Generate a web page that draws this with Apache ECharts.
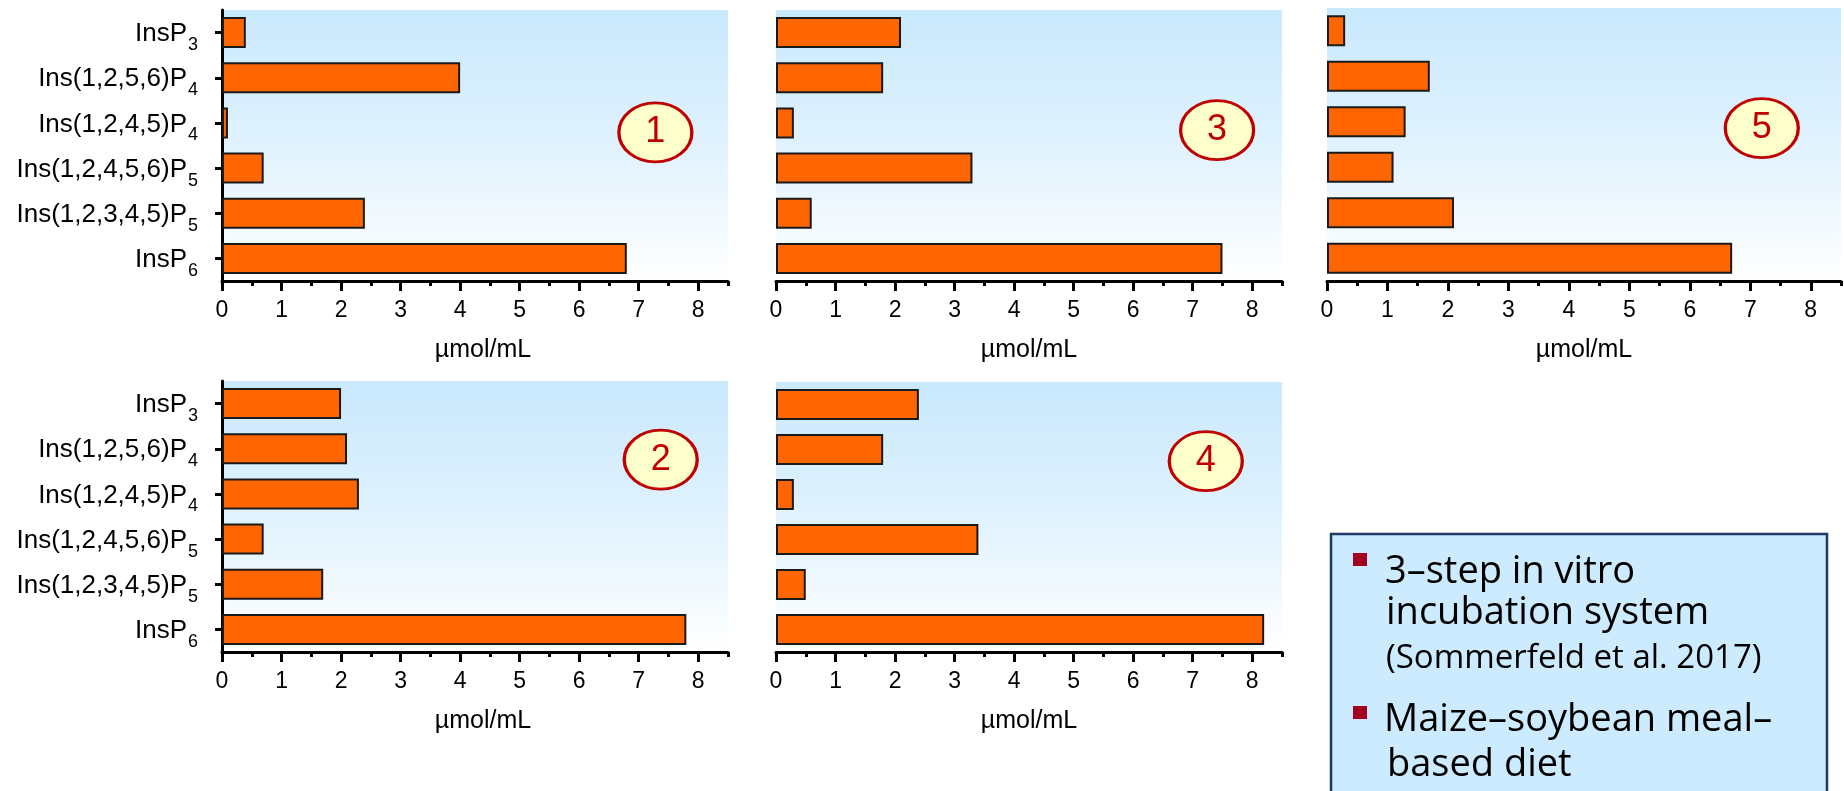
<!DOCTYPE html>
<html>
<head>
<meta charset="utf-8">
<script src="https://cdn.jsdelivr.net/npm/echarts@6/dist/echarts.min.js"></script>
<style>
  html, body { margin: 0; padding: 0; background: #ffffff; }
  #chart { width: 1844px; height: 791px; }
</style>
</head>
<body>
<div id="chart"></div>
<script>
// Inositol phosphate isomers (last character of each name is drawn as a subscript)
const categories = ['InsP3', 'Ins(1,2,5,6)P4', 'Ins(1,2,4,5)P4', 'Ins(1,2,4,5,6)P5', 'Ins(1,2,3,4,5)P5', 'InsP6'];

// Concentrations, µmol/mL, one array per incubation panel
const panel1 = [0.4, 4.0, 0.1, 0.7, 2.4, 6.8];
const panel2 = [2.0, 2.1, 2.3, 0.7, 1.7, 7.8];
const panel3 = [2.1, 1.8, 0.3, 3.3, 0.6, 7.5];
const panel4 = [2.4, 1.8, 0.3, 3.4, 0.5, 8.2];
const panel5 = [0.3, 1.7, 1.3, 1.1, 2.1, 6.7];

const xTickValues = [0, 1, 2, 3, 4, 5, 6, 7, 8];
const unitLabel = 'µmol/mL';

// Panel numbers and where the numbered badge sits (x in µmol/mL, y in category bands from the bottom)
const badgeLabels = ['1', '2', '3', '4', '5'];
const badgeX = [7.28, 7.37, 7.41, 7.22, 7.19];
const badgeY = [3.29, 4.26, 3.34, 4.24, 3.36];

// Note box text
const noteLines = ['3–step in vitro', 'incubation system', '(Sommerfeld et al. 2017)', 'Maize–soybean meal–', 'based diet'];

const panelData = [panel1, panel2, panel3, panel4, panel5];
const layouts = [
  { left: 222, top: 10, width: 506, height: 271, axis: true, nameShift: 16 },
  { left: 222, top: 381, width: 506, height: 271, axis: true, nameShift: 16 },
  { left: 776, top: 10, width: 506, height: 271, axis: false, nameShift: 0 },
  { left: 776, top: 382, width: 506, height: 270, axis: false, nameShift: 0 },
  { left: 1327, top: 8, width: 514, height: 273, axis: false, nameShift: 0 }
];

const labelFont = 'Liberation Sans, Arial, sans-serif';
const plotBg = {
  type: 'linear', x: 0, y: 0, x2: 0, y2: 1,
  colorStops: [
    { offset: 0, color: '#C9E9FD' },
    { offset: 0.5, color: '#E0F2FE' },
    { offset: 1, color: '#FFFFFF' }
  ]
};

const grid = [], xAxis = [], yAxis = [], series = [];

layouts.forEach((g, i) => {
  grid.push({
    left: g.left, top: g.top, width: g.width, height: g.height,
    show: true, backgroundColor: plotBg, borderWidth: 0, containLabel: false
  });

  // main value axis: line, half-step short ticks, integer labels, unit name
  xAxis.push({
    gridIndex: i, type: 'value', min: 0, max: 8.5, interval: 0.5,
    position: 'bottom',
    axisLine: { show: true, onZero: false, lineStyle: { color: '#000', width: 3 } },
    axisTick: { show: true, length: 5, lineStyle: { color: '#000', width: 3 } },
    splitLine: { show: false },
    axisLabel: {
      margin: 18, fontSize: 23, fontFamily: labelFont, color: '#000',
      formatter: v => (Number.isInteger(v) ? String(v) : '')
    },
    name: unitLabel, nameLocation: 'middle', nameGap: 57,
    nameTextStyle: { fontSize: 25, fontFamily: labelFont, color: '#000', padding: [0, 0, 0, g.nameShift] }
  });
  // overlay axis carrying the longer integer ticks
  xAxis.push({
    gridIndex: i, type: 'value', min: 0, max: 8.5, interval: 1,
    position: 'bottom',
    axisLine: { show: false },
    axisTick: { show: true, length: 10, customValues: xTickValues, lineStyle: { color: '#000', width: 3 } },
    axisLabel: { show: false },
    splitLine: { show: false }
  });

  yAxis.push({
    gridIndex: i, type: 'category', data: categories, inverse: true,
    axisLine: { show: g.axis, lineStyle: { color: '#000', width: 3 } },
    axisTick: { show: g.axis, alignWithLabel: true, length: 7, lineStyle: { color: '#000', width: 3 } },
    axisLabel: {
      show: g.axis, margin: 24,
      formatter: s => '{m|' + s.slice(0, -1) + '}{s|' + s.slice(-1) + '}',
      rich: {
        m: { fontSize: 26, fontFamily: labelFont, color: '#000', lineHeight: 31, verticalAlign: 'top', padding: [4, 0, 0, 0] },
        s: { fontSize: 18, fontFamily: labelFont, color: '#000', lineHeight: 18, verticalAlign: 'top', padding: [19, 0, 0, 1] }
      }
    },
    splitLine: { show: false }
  });
  // hidden value axis used to place the panel badge
  yAxis.push({ gridIndex: i, type: 'value', min: 0, max: 6, show: false });

  series.push({
    type: 'bar',
    xAxisIndex: i * 2, yAxisIndex: i * 2,
    data: panelData[i],
    barWidth: 31,
    itemStyle: { color: '#FF6600', borderColor: '#1A1A1A', borderWidth: 2 },
    silent: true
  });
  series.push({
    type: 'scatter',
    xAxisIndex: i * 2, yAxisIndex: i * 2 + 1,
    data: [[badgeX[i], badgeY[i], badgeLabels[i]]],
    symbol: 'circle',
    symbolSize: [73, 59],
    itemStyle: { color: '#FFFFCC', borderColor: '#C00000', borderWidth: 3, opacity: 1 },
    label: {
      show: true, position: 'inside',
      formatter: p => p.value[2],
      fontSize: 36, fontFamily: labelFont, color: '#C00000'
    },
    z: 5, silent: true
  });
});

const noteFont = '"Open Sans", "Noto Sans", sans-serif';
const graphic = [
  { type: 'rect', shape: { x: 1331, y: 534, width: 496, height: 300 },
    style: { fill: '#CCEBFF', stroke: '#1F3864', lineWidth: 2.5 }, z: 1 },
  { type: 'rect', shape: { x: 1353, y: 553, width: 14, height: 13 }, style: { fill: '#A50021' }, z: 2 },
  { type: 'rect', shape: { x: 1353, y: 706, width: 14, height: 13 }, style: { fill: '#A50021' }, z: 2 },
  { type: 'text', x: 1385, y: 572, style: { text: noteLines[0], font: '38px ' + noteFont, fill: '#000', verticalAlign: 'middle' }, z: 2 },
  { type: 'text', x: 1386, y: 613, style: { text: noteLines[1], font: '38px ' + noteFont, fill: '#000', verticalAlign: 'middle' }, z: 2 },
  { type: 'text', x: 1386, y: 659, style: { text: noteLines[2], font: '33px ' + noteFont, fill: '#000', verticalAlign: 'middle' }, z: 2 },
  { type: 'text', x: 1384, y: 720, style: { text: noteLines[3], font: '38px ' + noteFont, fill: '#000', verticalAlign: 'middle' }, z: 2 },
  { type: 'text', x: 1387, y: 765, style: { text: noteLines[4], font: '38px ' + noteFont, fill: '#000', verticalAlign: 'middle' }, z: 2 }
];

const chart = echarts.init(document.getElementById('chart'), null, { renderer: 'canvas' });
chart.setOption({
  backgroundColor: '#ffffff',
  animation: false,
  grid, xAxis, yAxis, series, graphic
});
</script>
</body>
</html>
